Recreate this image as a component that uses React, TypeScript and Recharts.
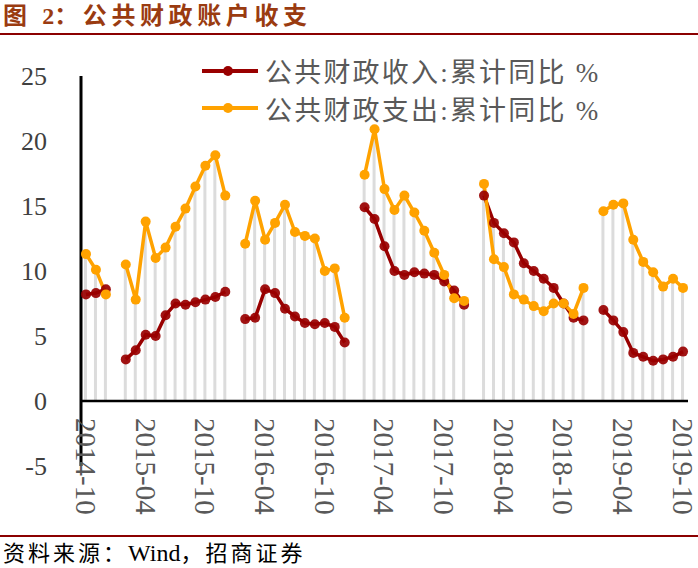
import React from "react";
import {
  ComposedChart,
  Bar,
  Line,
  XAxis,
  YAxis,
  ReferenceLine,
  Legend,
} from "recharts";

// months, Oct 2014 – Oct 2019 (Jan figures are not published)
const months: string[] = [
  "2014-10", "2014-11", "2014-12",
  "2015-01", "2015-02", "2015-03", "2015-04", "2015-05", "2015-06", "2015-07", "2015-08", "2015-09", "2015-10", "2015-11", "2015-12",
  "2016-01", "2016-02", "2016-03", "2016-04", "2016-05", "2016-06", "2016-07", "2016-08", "2016-09", "2016-10", "2016-11", "2016-12",
  "2017-01", "2017-02", "2017-03", "2017-04", "2017-05", "2017-06", "2017-07", "2017-08", "2017-09", "2017-10", "2017-11", "2017-12",
  "2018-01", "2018-02", "2018-03", "2018-04", "2018-05", "2018-06", "2018-07", "2018-08", "2018-09", "2018-10", "2018-11", "2018-12",
  "2019-01", "2019-02", "2019-03", "2019-04", "2019-05", "2019-06", "2019-07", "2019-08", "2019-09", "2019-10",
];

// 公共财政收入:累计同比 %
const revenue: (number | null)[] = [
  8.2, 8.3, 8.6,
  null, 3.2, 3.9, 5.1, 5.0, 6.6, 7.5, 7.4, 7.6, 7.8, 8.0, 8.4,
  null, 6.3, 6.4, 8.6, 8.3, 7.1, 6.5, 6.0, 5.9, 6.0, 5.7, 4.5,
  null, 14.9, 14.0, 11.9, 10.0, 9.7, 9.9, 9.8, 9.7, 9.2, 8.5, 7.4,
  null, 15.8, 13.7, 12.9, 12.2, 10.6, 10.0, 9.4, 8.7, 7.5, 6.4, 6.2,
  null, 7.0, 6.2, 5.3, 3.7, 3.4, 3.1, 3.2, 3.4, 3.8,
];

// 公共财政支出:累计同比 %
const expenditure: (number | null)[] = [
  11.3, 10.1, 8.2,
  null, 10.5, 7.8, 13.8, 11.0, 11.8, 13.4, 14.8, 16.5, 18.1, 18.9, 15.8,
  null, 12.1, 15.4, 12.4, 13.7, 15.1, 13.0, 12.7, 12.5, 10.0, 10.2, 6.4,
  null, 17.4, 20.9, 16.3, 14.7, 15.8, 14.5, 13.1, 11.4, 9.7, 7.9, 7.7,
  null, 16.7, 10.9, 10.3, 8.2, 7.8, 7.3, 6.9, 7.5, 7.5, 6.7, 8.7,
  null, 14.6, 15.1, 15.2, 12.4, 10.7, 9.9, 8.8, 9.4, 8.7,
];

const yTicks = [-5, 0, 5, 10, 15, 20, 25];

const REV_NAME = "公共财政收入:累计同比 %";
const EXP_NAME = "公共财政支出:累计同比 %";
const REV_COLOR = "#990000";
const EXP_COLOR = "#ffa200";

const SERIF = '"Liberation Serif", "Noto Sans CJK SC", serif';
const LABEL_TOP = 418;

// drop line height = higher of the two series (Excel-style drop lines)
const data = months.map((m, i) => {
  const r = revenue[i];
  const e = expenditure[i];
  const vals = [r, e].filter((v): v is number => v != null);
  return {
    month: m,
    rev: r,
    exp: e,
    drop: vals.length ? Math.max(...vals) : null,
  };
});

const MonthTick = (props: any) => {
  const { x, payload } = props;
  return (
    <text
      transform={`translate(${x},${LABEL_TOP}) rotate(90)`}
      textAnchor="start"
      dy="0.35em"
      fontSize={29}
      fill="#595959"
      fontFamily={SERIF}
    >
      {payload.value}
    </text>
  );
};

const legendItems = [
  { name: REV_NAME, color: REV_COLOR },
  { name: EXP_NAME, color: EXP_COLOR },
];

const renderLegend = () => (
  <div style={{ fontFamily: SERIF, fontSize: 27, color: "#595959", letterSpacing: 2.2 }}>
    {legendItems.map((it) => (
      <div
        key={it.name}
        style={{ display: "flex", alignItems: "center", height: 37.5, whiteSpace: "nowrap" }}
      >
        <svg width={56} height={12} style={{ flex: "none" }}>
          <line x1={0} y1={6} x2={56} y2={6} stroke={it.color} strokeWidth={4} />
          <circle cx={26} cy={6} r={5} fill={it.color} />
        </svg>
        <span style={{ marginLeft: 7 }}>{it.name}</span>
      </div>
    ))}
  </div>
);

export default function App() {
  return (
    <div
      style={{
        position: "absolute",
        left: 0,
        top: 0,
        width: 698,
        height: 568,
        background: "#fff",
        overflow: "hidden",
      }}
    >
      <div
        style={{
          position: "absolute",
          left: 3,
          top: 2,
          fontFamily: SERIF,
          fontWeight: "bold",
          fontSize: 24,
          lineHeight: "28px",
          letterSpacing: 4.6,
          color: "#9a3b10",
          whiteSpace: "nowrap",
        }}
      >
        图 <span style={{ letterSpacing: 0 }}>2</span>：公共财政账户收支
      </div>
      <div
        style={{ position: "absolute", left: 0, top: 33, width: 698, height: 2, background: "#8b0000" }}
      />

      <div style={{ position: "absolute", left: 0, top: 0 }}>
        <ComposedChart
          width={698}
          height={568}
          data={data}
          margin={{ top: 76, right: 10, bottom: 101, left: 21 }}
        >
          <XAxis
            dataKey="month"
            type="category"
            interval={5}
            axisLine={false}
            tickLine={false}
            height={1}
            tick={<MonthTick />}
          />
          <YAxis
            type="number"
            domain={[-5, 25]}
            ticks={yTicks}
            interval={0}
            width={60}
            axisLine={{ stroke: "#000", strokeWidth: 3 }}
            tickLine={false}
            tickSize={6}
            tickMargin={28}
            tick={{ fontSize: 26, fill: "#404040", fontFamily: SERIF }}
          />
          <Bar
            dataKey="drop"
            barSize={3}
            fill="#dcdcdc"
            isAnimationActive={false}
            legendType="none"
          />
          <ReferenceLine y={0} stroke="#000" strokeWidth={2.5} />
          <Line
            dataKey="rev"
            name={REV_NAME}
            stroke={REV_COLOR}
            strokeWidth={3.5}
            dot={{ r: 5, fill: REV_COLOR, stroke: "none", fillOpacity: 0.92 }}
            activeDot={false}
            connectNulls={false}
            isAnimationActive={false}
          />
          <Line
            dataKey="exp"
            name={EXP_NAME}
            stroke={EXP_COLOR}
            strokeWidth={3.5}
            dot={{ r: 5, fill: EXP_COLOR, stroke: "none" }}
            activeDot={false}
            connectNulls={false}
            isAnimationActive={false}
          />
          <Legend
            layout="horizontal"
            verticalAlign="middle"
            align="center"
            content={renderLegend}
            wrapperStyle={{ top: 52, left: 202, width: 480, height: 76 }}
          />
        </ComposedChart>
      </div>

      <div
        style={{ position: "absolute", left: 0, top: 535, width: 698, height: 1.5, background: "#8b0000" }}
      />
      <div
        style={{
          position: "absolute",
          left: 3,
          top: 540,
          fontFamily: SERIF,
          fontSize: 22,
          lineHeight: "26px",
          letterSpacing: 3,
          color: "#000",
          whiteSpace: "nowrap",
        }}
      >
        资料来源：<span style={{ letterSpacing: 0, fontSize: 24 }}>Wind</span>，招商证券
      </div>
    </div>
  );
}
